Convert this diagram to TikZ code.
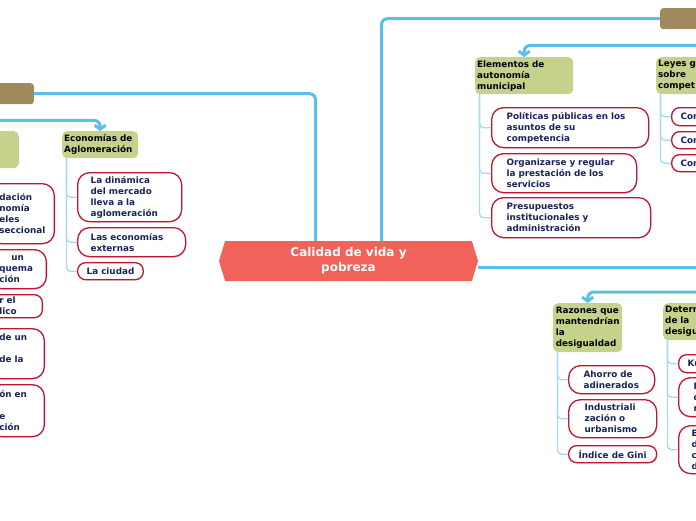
\documentclass[tikz,border=0pt]{standalone}
\usepackage{fontspec}
\setmainfont{DejaVu Sans}
\usepackage{tikz}
\usetikzlibrary{arrows.meta, positioning, shapes.symbols, shadows}
\definecolor{trunkblue}{RGB}{90,190,232}
\definecolor{twigblue}{RGB}{165,218,242}
\definecolor{catbrown}{RGB}{160,137,92}
\definecolor{topicgreen}{RGB}{196,210,140}
\definecolor{hubred}{RGB}{240,98,90}
\definecolor{leafred}{RGB}{192,22,52}
\definecolor{leafnavy}{RGB}{25,35,90}

\begin{document}
\begin{tikzpicture}[
				x=1pt, y=-1pt,
				hub/.style={signal, signal to=west and east, signal pointer angle=146,
					fill=hubred, text=white, inner sep=0pt, align=center,
					minimum width=259pt, minimum height=40pt,
					font=\fontsize{12}{15}\selectfont\bfseries},
				cat/.style={rectangle, rounded corners=3pt, fill=catbrown,
					minimum width=100pt, minimum height=21pt},
				topic/.style={rectangle, rounded corners=5pt, fill=topicgreen, anchor=north west,
					inner xsep=2pt, inner ysep=2pt, align=left, text=black,
					font=\fontsize{8.8}{11}\selectfont\bfseries},
				leaf/.style={rectangle, rounded corners=8pt, draw=leafred, line width=1.3pt,
					fill=white, text=leafnavy, anchor=north west, inner ysep=2pt, align=left,
					font=\fontsize{8.8}{11}\selectfont\bfseries,
					drop shadow={shadow xshift=0.6pt, shadow yshift=-1pt, opacity=0.2}},
				tall/.style={leaf, rounded corners=12pt},
				trunk/.style={draw=trunkblue, line width=3pt, rounded corners=6pt},
				twig/.style={draw=twigblue, line width=1.3pt, rounded corners=4pt},
				down/.style={-{Straight Barb[length=4pt, width=11pt]}}
				]
				\useasboundingbox (0,0) rectangle (696,520);
				\clip (0,0) rectangle (696,520);

				\node[hub] (hub) at (348.5,261) {Calidad de vida y\\pobreza};

				\node[cat, anchor=north east] (leftcat) at (34,83) {};
				\node[cat, anchor=north west] (rightcat) at (660,8) {};
				\coordinate (botcat) at (720,267);
				\coordinate (botfork) at (710,292);

				\node[topic, anchor=north east, minimum width=90pt, minimum height=37pt] (leftgreen) at (19,131) {};
				\node[topic, text width=72pt, minimum height=27pt] (econ) at (62,131) {Economías de\\Aglomeración};
				\node[topic, text width=94pt, minimum height=37pt] (elem) at (475,57) {Elementos de\\autonomía\\municipal};
				\node[topic, text width=94pt, minimum height=37pt] (leyes) at (656,57) {Leyes g\\sobre\\compet};
				\node[topic, minimum width=69pt, minimum height=49pt] (razon) at (553,303) {Razones que\\mantendrían\\la\\desigualdad};
				\node[topic, text width=94pt, minimum height=37pt] (determ) at (663,303) {Determ\\de la\\desigu};

				\node[tall, anchor=north east, inner xsep=10pt, text width=45pt, minimum height=60pt] (lone) at (55,183) {dación\\nomía\\eles\\seccional};
				\node[tall, anchor=north east, inner xsep=10pt, text width=37pt, minimum height=39pt] (ltwo) at (47,249) {\hspace*{12pt}un\\quema\\ción};
				\node[leaf, anchor=north east, inner xsep=10pt, text width=33pt, minimum height=23pt] (lthree) at (43,294) {r el\\lico};
				\node[tall, anchor=north east, inner xsep=10pt, text width=35pt, minimum height=50pt] (lfour) at (45,328) {de un\\~\\de la\\~};
				\node[tall, anchor=north east, inner xsep=10pt, text width=35pt, minimum height=52pt] (lfive) at (45,384) {ón en\\~\\e\\ción};

				\node[tall, inner xsep=13pt, text width=78pt, minimum height=49pt] (dyn) at (77,172) {La dinámica\\del mercado\\lleva a la\\aglomeración};
				\node[tall, inner xsep=13pt, text width=82pt, minimum height=29pt] (ext) at (77,227) {Las economías\\externas};
				\node[leaf, inner xsep=9pt, minimum height=17pt] (city) at (77,262) {La ciudad};

				\node[tall, inner xsep=15pt, text width=127pt, minimum height=40pt] (pol) at (491,107) {Políticas públicas en los\\asuntos de su\\competencia};
				\node[tall, inner xsep=15pt, text width=115pt, minimum height=39pt] (org) at (491,153) {Organizarse y regular\\la prestación de los\\servicios};
				\node[tall, inner xsep=15pt, text width=129pt, minimum height=40pt] (pre) at (491,197) {Presupuestos\\institucionales y\\administración};

				\node[leaf, inner xsep=9pt, text width=60pt, minimum height=18pt] (conone) at (671,107) {Con};
				\node[leaf, inner xsep=9pt, text width=60pt, minimum height=17pt] (contwo) at (671,131) {Con};
				\node[leaf, inner xsep=9pt, text width=60pt, minimum height=17pt] (conthree) at (671,154) {Con};

				\node[tall, inner xsep=15pt, text width=56pt, minimum height=28pt] (aho) at (568,365) {Ahorro de\\adinerados};
				\node[tall, inner xsep=16pt, text width=56pt, minimum height=38pt] (ind) at (568,399) {Industriali\\zación o\\urbanismo};
				\node[leaf, inner xsep=10pt, minimum height=17pt] (gini) at (568,445) {Índice de Gini};

				\node[leaf, inner xsep=9pt, text width=60pt, minimum height=18pt] (ku) at (678,354) {Ku};
				\node[tall, inner xsep=15pt, text width=60pt, minimum height=39pt] (dtwo) at (678,377) {D\\c\\r};
				\node[tall, inner xsep=13pt, text width=60pt, minimum height=48pt] (ethree) at (678,425) {E\\d\\c\\d};

				\draw[trunk] ([xshift=-33pt]hub.north) |- (leftcat.east);
				\draw[trunk] ([xshift=33pt]hub.north) |- (rightcat.west);
				\draw[trunk] ([yshift=-6pt]hub.east) -- (botcat);
				\draw[trunk, down] (leftcat.south) -- ++(0,16) -| (econ.north);
				\draw[trunk, down] (rightcat.south) -- ++(0,16) -| (elem.north);
				\draw[trunk, down] (botfork) -| (razon.north);

				\draw[twig] ([xshift=4.5pt]econ.south west) |- (dyn.west);
				\draw[twig] ([xshift=4.5pt]econ.south west) |- (ext.west);
				\draw[twig] ([xshift=4.5pt]econ.south west) |- (city.west);
				\draw[twig] ([xshift=4.5pt]elem.south west) |- (pol.west);
				\draw[twig] ([xshift=4.5pt]elem.south west) |- (org.west);
				\draw[twig] ([xshift=4.5pt]elem.south west) |- (pre.west);
				\draw[twig] ([xshift=4.5pt]leyes.south west) |- (conone.west);
				\draw[twig] ([xshift=4.5pt]leyes.south west) |- (contwo.west);
				\draw[twig] ([xshift=4.5pt]leyes.south west) |- (conthree.west);
				\draw[twig] ([xshift=4.5pt]razon.south west) |- (aho.west);
				\draw[twig] ([xshift=4.5pt]razon.south west) |- (ind.west);
				\draw[twig] ([xshift=4.5pt]razon.south west) |- (gini.west);
				\draw[twig] ([xshift=4.5pt]determ.south west) |- (ku.west);
				\draw[twig] ([xshift=4.5pt]determ.south west) |- (dtwo.west);
				\draw[twig] ([xshift=4.5pt]determ.south west) |- (ethree.west);
			\end{tikzpicture}
\end{document}
